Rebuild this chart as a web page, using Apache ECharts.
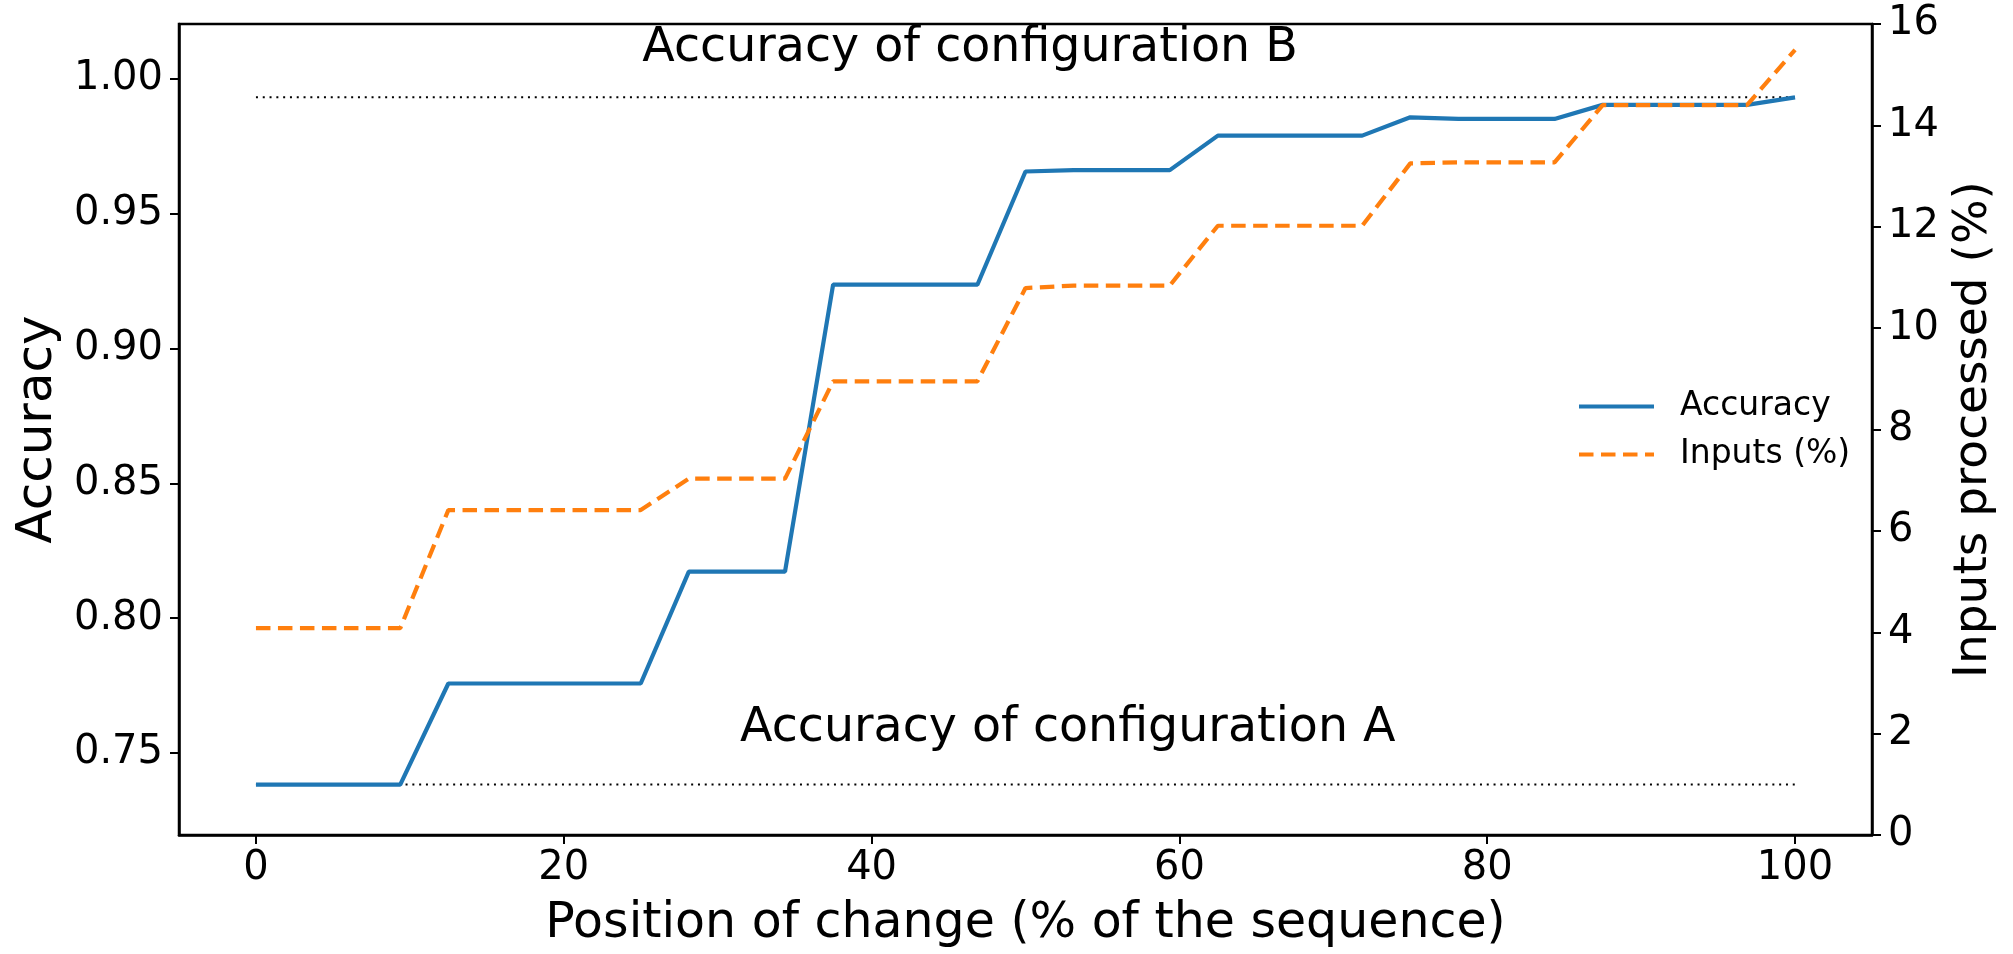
<!DOCTYPE html>
<html>
<head>
<meta charset="utf-8">
<script src="https://cdn.jsdelivr.net/npm/echarts@6/dist/echarts.min.js"></script>
<style>
html,body{margin:0;padding:0;background:#fff;}
#chart{width:2013px;height:954px;}
</style>
</head>
<body>
<div id="chart"></div>
<script>
// ---- data ----
const positions = [0, 3.125, 6.25, 9.375, 12.5, 15.625, 18.75, 21.875, 25, 28.125, 31.25, 34.375,
  37.5, 40.625, 43.75, 46.875, 50, 53.125, 56.25, 59.375, 62.5, 65.625, 68.75, 71.875,
  75, 78.125, 81.25, 84.375, 87.5, 90.625, 93.75, 96.875, 100];
const accuracy = [0.7383, 0.7383, 0.7383, 0.7383,
  0.7758, 0.7758, 0.7758, 0.7758, 0.7758,
  0.8173, 0.8173, 0.8173,
  0.9237, 0.9237, 0.9237, 0.9237,
  0.9657, 0.9662, 0.9662, 0.9662,
  0.9790, 0.9790, 0.9790, 0.9790,
  0.9858, 0.9852, 0.9852, 0.9852,
  0.9904, 0.9904, 0.9904, 0.9904,
  0.9932];
const inputsPct = [4.08, 4.08, 4.08, 4.08,
  6.41, 6.41, 6.41, 6.41, 6.41,
  7.03, 7.03, 7.03,
  8.95, 8.95, 8.95, 8.95,
  10.79, 10.84, 10.84, 10.84,
  12.02, 12.02, 12.02, 12.02,
  13.25, 13.27, 13.27, 13.27,
  14.40, 14.40, 14.40, 14.40,
  15.49];
const accuracyConfigA = 0.7383;
const accuracyConfigB = 0.9932;
const refLineRange = [0, 100];
const xTicks = [0, 20, 40, 60, 80, 100];
const accTicks = [0.75, 0.80, 0.85, 0.90, 0.95, 1.00];
const seriesNames = ['Accuracy', 'Inputs (%)'];
const annotationTexts = ['Accuracy of configuration B', 'Accuracy of configuration A'];
const annotationAnchors = [[46.4, 1.0114], [52.75, 0.7589]];

// ---- build ----
const FONT = 'DejaVu Sans';
const accData = positions.map((x, i) => [x, accuracy[i]]);
const inpData = positions.map((x, i) => [x, inputsPct[i]]);
const refA = refLineRange.map(x => [x, accuracyConfigA]);
const refB = refLineRange.map(x => [x, accuracyConfigB]);
const annData = annotationAnchors.map((p, i) => ({value: p, label: {formatter: annotationTexts[i]}}));

const axisLineStyle = {color: '#000', width: 2.5};
const tickStyle = {show: true, length: 9, lineStyle: {color: '#000', width: 2}};

const chart = echarts.init(document.getElementById('chart'), null, {renderer: 'canvas'});
chart.setOption({
  animation: false,
  backgroundColor: '#fff',
  textStyle: {fontFamily: FONT, color: '#000'},
  grid: {left: 179, top: 24, width: 1693, height: 812, show: true, borderColor: '#000', borderWidth: 2.5, backgroundColor: 'transparent'},
  legend: {
    data: seriesNames,
    orient: 'vertical',
    left: 1572, top: 385,
    itemWidth: 75, itemHeight: 2, itemGap: 15,
    selectedMode: false,
    itemStyle: {opacity: 0},
    lineStyle: {width: 4},
    textStyle: {fontFamily: FONT, fontSize: 33, color: '#000', padding: [0, 0, 0, 21]}
  },
  xAxis: {
    type: 'value', min: -5, max: 105,
    name: 'Position of change (% of the sequence)',
    nameLocation: 'middle', nameGap: 65,
    nameTextStyle: {fontFamily: FONT, fontSize: 49, color: '#000'},
    axisLine: {show: true, onZero: false, lineStyle: axisLineStyle},
    axisTick: Object.assign({customValues: xTicks}, tickStyle),
    axisLabel: {customValues: xTicks, fontFamily: FONT, fontSize: 40, color: '#000', margin: 14},
    splitLine: {show: false}
  },
  yAxis: [{
    type: 'value', min: 0.7196, max: 1.0204, position: 'left',
    name: 'Accuracy', nameLocation: 'middle', nameGap: 116, nameRotate: 90,
    nameTextStyle: {fontFamily: FONT, fontSize: 50, color: '#000'},
    axisLine: {show: true, onZero: false, lineStyle: axisLineStyle},
    axisTick: Object.assign({customValues: accTicks}, tickStyle),
    axisLabel: {customValues: accTicks, fontFamily: FONT, fontSize: 40, color: '#000', margin: 16,
      formatter: v => Number(v).toFixed(2)},
    splitLine: {show: false}
  }, {
    type: 'value', min: 0, max: 16, interval: 2, position: 'right',
    name: 'Inputs processed (%)', nameLocation: 'middle', nameGap: 77, nameRotate: 90,
    nameTextStyle: {fontFamily: FONT, fontSize: 47, color: '#000'},
    axisLine: {show: true, onZero: false, lineStyle: axisLineStyle},
    axisTick: tickStyle,
    axisLabel: {fontFamily: FONT, fontSize: 40, color: '#000', margin: 16},
    splitLine: {show: false}
  }],
  series: [
    {name: 'refA', type: 'line', data: refA, yAxisIndex: 0, symbol: 'none', silent: true,
      lineStyle: {color: '#000', width: 2, type: [2, 4.8]}, z: 1},
    {name: 'refB', type: 'line', data: refB, yAxisIndex: 0, symbol: 'none', silent: true,
      lineStyle: {color: '#000', width: 2, type: [2, 4.8]}, z: 1},
    {name: seriesNames[0], type: 'line', data: accData, yAxisIndex: 0, symbol: 'none',
      color: '#1f77b4', lineStyle: {color: '#1f77b4', width: 4.2}, z: 3},
    {name: seriesNames[1], type: 'line', data: inpData, yAxisIndex: 1, symbol: 'none',
      color: '#ff7f0e', lineStyle: {color: '#ff7f0e', width: 4.2, type: [14.5, 7.5]}, z: 4},
    {name: 'annotations', type: 'scatter', data: annData, yAxisIndex: 0, symbolSize: 0, silent: true,
      itemStyle: {opacity: 1},
      label: {show: true, position: [0, 0], align: 'center', verticalAlign: 'middle', opacity: 1,
        fontFamily: FONT, fontSize: 47.5, color: '#000'}, z: 5}
  ]
});
</script>
</body>
</html>
